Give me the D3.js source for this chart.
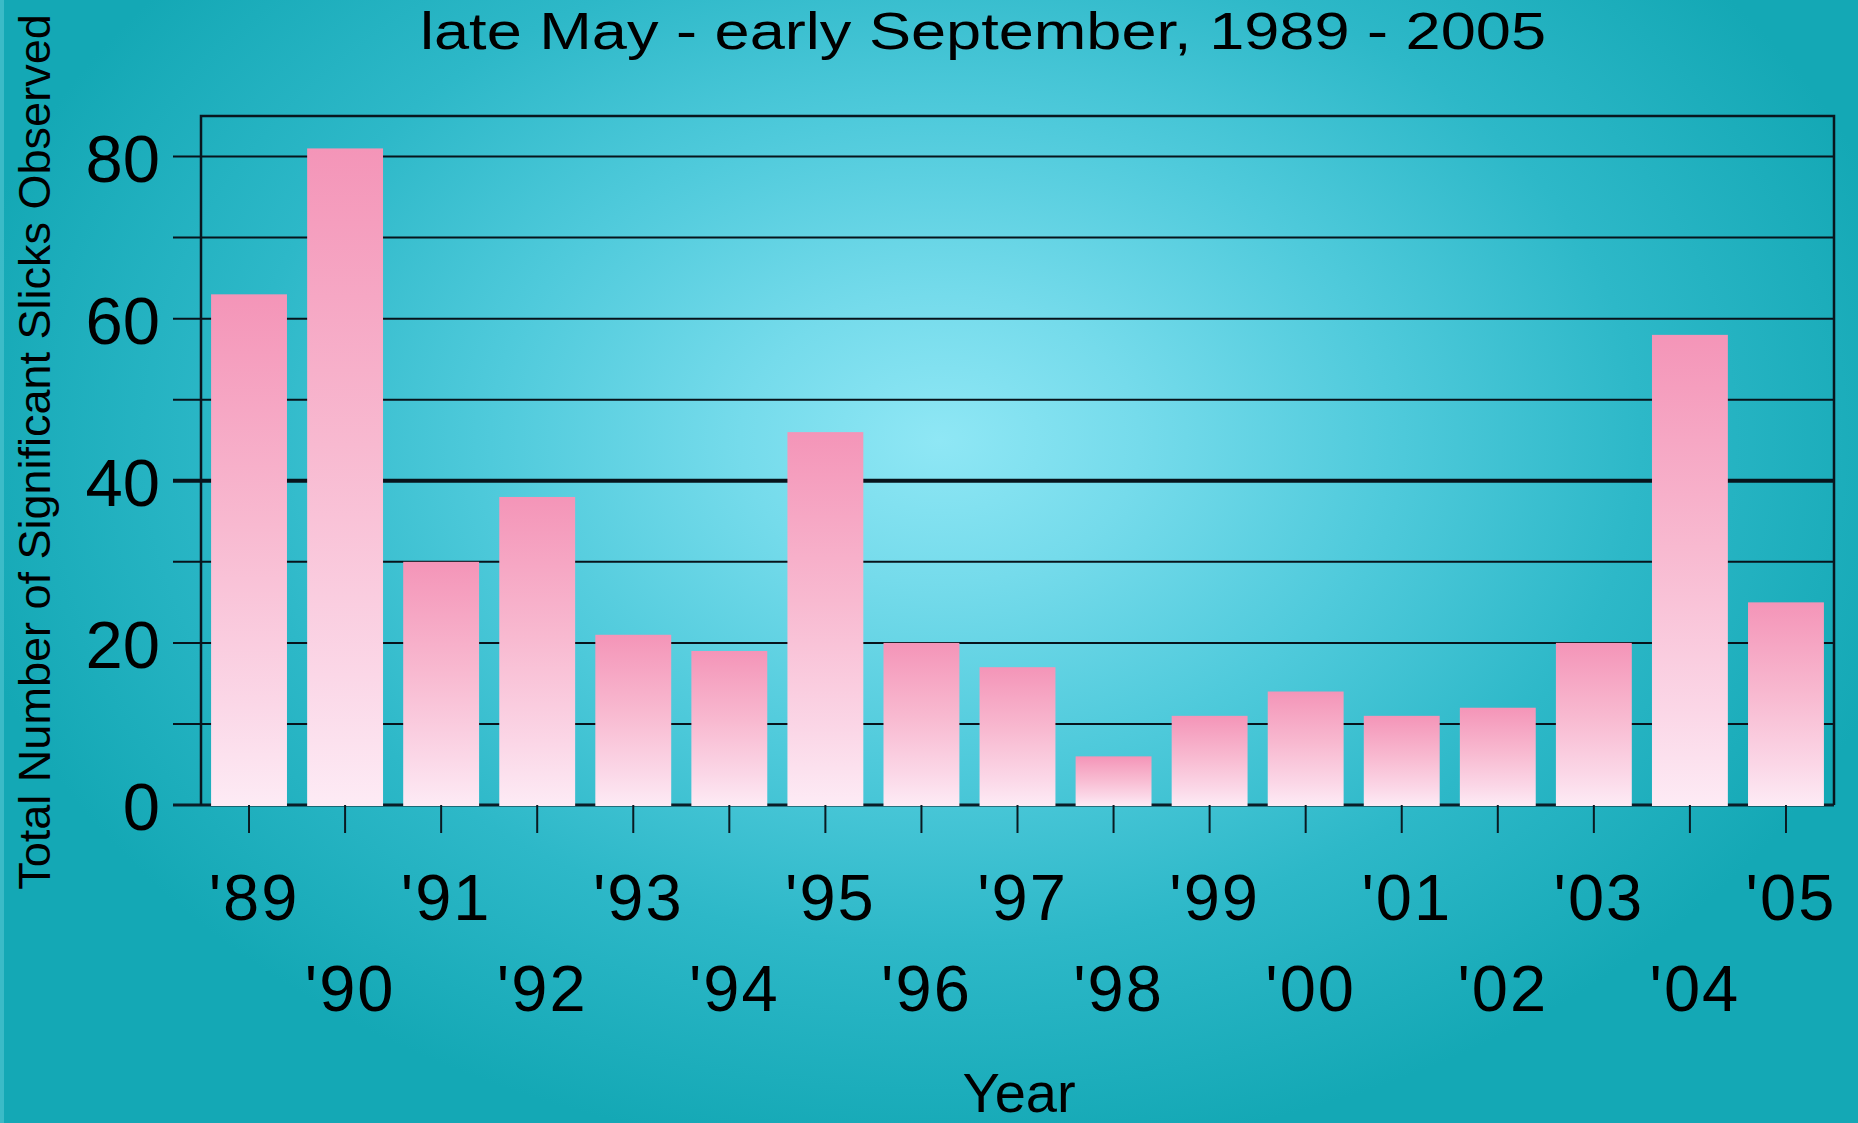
<!DOCTYPE html>
<html>
<head>
<meta charset="utf-8">
<script src="https://cdn.jsdelivr.net/npm/d3@7"></script>
<style>
  html, body { margin: 0; padding: 0; overflow: hidden; background: #19abb9; }
  svg { display: block; }
</style>
</head>
<body>
<svg id="chart" width="1858" height="1123"></svg>
<script>
// ---- data ----
const years = ["'89","'90","'91","'92","'93","'94","'95","'96","'97","'98","'99","'00","'01","'02","'03","'04","'05"];
const slicks = [63, 81, 30, 38, 21, 19, 46, 20, 17, 6, 11, 14, 11, 12, 20, 58, 25];
const yTickValues = [0, 20, 40, 60, 80];
const gridValues = [10, 20, 30, 40, 50, 60, 70, 80];
const titleText = "late May - early September, 1989 - 2005";
const yLabelText = "Total Number of Significant Slicks Observed";
const xLabelText = "Year";

// ---- layout ----
const W = 1858, H = 1123;
const plotL = 201, plotR = 1834, plotT = 116, plotB = 805;
const font = "'Liberation Sans', Arial, sans-serif";

const svg = d3.select("#chart");
const defs = svg.append("defs");

// background radial gradient
const bg = defs.append("radialGradient")
  .attr("id", "bgGrad")
  .attr("gradientUnits", "userSpaceOnUse")
  .attr("cx", 940).attr("cy", 440).attr("r", 1000)
  .attr("gradientTransform", "translate(940,440) scale(1,0.72) translate(-940,-440)");
[[0, "#8fe7f5"], [0.2, "#75dbeb"], [0.45, "#4fcadb"], [0.7, "#2db8c8"], [1, "#14a8b5"]]
  .forEach(([o, c]) => bg.append("stop").attr("offset", o).attr("stop-color", c));

// bar vertical gradient
const barG = defs.append("linearGradient")
  .attr("id", "barGrad").attr("x1", 0).attr("y1", 0).attr("x2", 0).attr("y2", 1);
[[0, "#f495b8"], [0.45, "#f8b9d0"], [0.8, "#fbd7e7"], [1, "#fdebf5"]]
  .forEach(([o, c]) => barG.append("stop").attr("offset", o).attr("stop-color", c));

svg.append("rect").attr("width", W).attr("height", H).attr("fill", "url(#bgGrad)");
svg.append("rect").attr("width", 4).attr("height", H).attr("fill", "#4cc3cf").attr("opacity", 0.7);

// ---- scales ----
const x = d3.scaleBand().domain(years).range([plotL, plotR]).paddingInner(0.21).paddingOuter(0.105);
const y = d3.scaleLinear().domain([0, 85]).range([plotB, plotT]);

// gridlines (extend left as ticks)
svg.append("g").selectAll("line").data(gridValues).join("line")
  .attr("x1", plotL - 28).attr("x2", plotR)
  .attr("y1", d => y(d)).attr("y2", d => y(d))
  .attr("stroke", "#07141c")
  .attr("stroke-width", d => d === 40 ? 4 : 2);

// zero line
svg.append("line")
  .attr("x1", plotL - 28).attr("x2", plotR)
  .attr("y1", y(0)).attr("y2", y(0))
  .attr("stroke", "#0a1e28").attr("stroke-width", 3);

// bars
svg.append("g").selectAll("rect").data(slicks).join("rect")
  .attr("x", (d, i) => x(years[i]))
  .attr("width", x.bandwidth())
  .attr("y", d => y(d))
  .attr("height", d => y(0) - y(d) + 1)
  .attr("fill", "url(#barGrad)");

// plot frame (left, top, right)
svg.append("path")
  .attr("d", `M${plotL},${plotB} V${plotT} H${plotR} V${plotB}`)
  .attr("fill", "none").attr("stroke", "#08161e").attr("stroke-width", 2.5);

// x axis ticks
const xAxis = d3.axisBottom(x).tickSize(28).tickFormat("");
const gx = svg.append("g").attr("transform", `translate(0,${plotB})`).call(xAxis);
gx.select(".domain").remove();
gx.selectAll(".tick line").attr("stroke", "#0a1a22").attr("stroke-width", 2);

// x tick labels in two staggered rows
svg.append("g").selectAll("text").data(years).join("text")
  .attr("x", d => x(d) + x.bandwidth() / 2 + 5)
  .attr("y", (d, i) => i % 2 === 0 ? 920 : 1011)
  .attr("text-anchor", "middle")
  .attr("font-family", font).attr("font-size", 65)
  .attr("letter-spacing", 2)
  .attr("fill", "#000")
  .text(d => d);

// y axis labels
const yAxis = d3.axisLeft(y).tickValues(yTickValues).tickSize(0).tickPadding(0);
const gy = svg.append("g").attr("transform", `translate(160,0)`).call(yAxis);
gy.select(".domain").remove();
gy.selectAll(".tick text")
  .attr("font-family", font).attr("font-size", 67)
  .attr("fill", "#000").attr("dy", "0.37em").attr("x", 0);

// title
svg.append("text")
  .attr("x", 983).attr("y", 49)
  .attr("text-anchor", "middle")
  .attr("font-family", font).attr("font-size", 52)
  .attr("textLength", 1126).attr("lengthAdjust", "spacingAndGlyphs")
  .attr("fill", "#000")
  .text(titleText);

// y axis title
svg.append("text")
  .attr("transform", "translate(50,452) rotate(-90)")
  .attr("text-anchor", "middle")
  .attr("font-family", font).attr("font-size", 45)
  .attr("fill", "#000")
  .text(yLabelText);

// x axis title
svg.append("text")
  .attr("x", 1019).attr("y", 1112)
  .attr("text-anchor", "middle")
  .attr("font-family", font).attr("font-size", 56)
  .attr("fill", "#000")
  .text(xLabelText);
</script>
</body>
</html>
